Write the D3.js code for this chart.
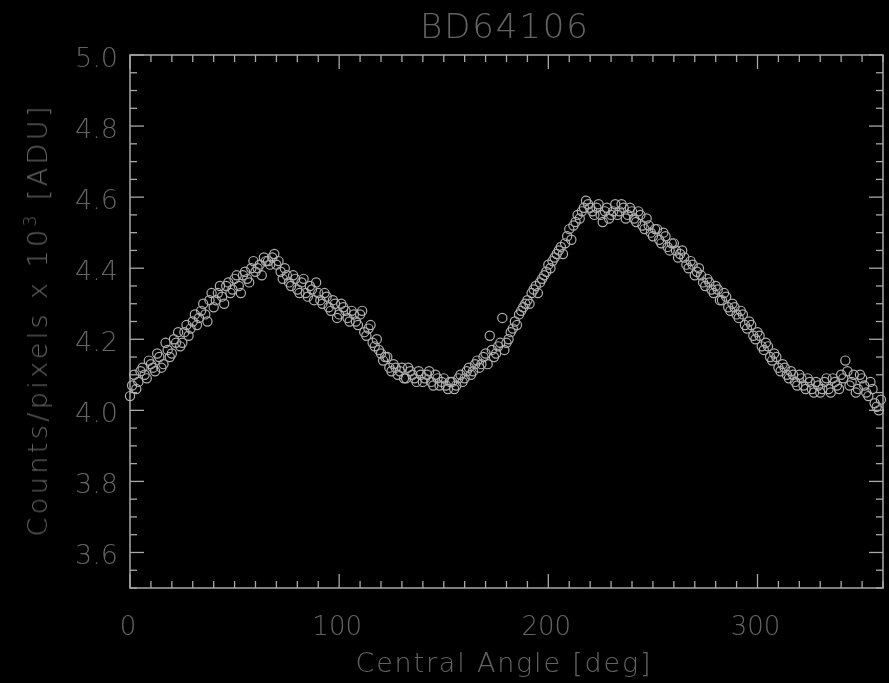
<!DOCTYPE html>
<html>
<head>
<meta charset="utf-8">
<script src="https://cdn.jsdelivr.net/npm/d3@7"></script>
<style>
  html, body { margin: 0; padding: 0; background: #000; }
  svg text { font-family: "DejaVu Sans", sans-serif; font-weight: 200; fill: #646464; }
</style>
</head>
<body>
<div id="chart"></div>
<script>
// Light curve data (even and odd angle samples)
const anglesEven = [
  0, 2, 4, 6, 8, 10, 12, 14, 16, 18, 20, 22, 24, 26, 28, 30, 32, 34, 36, 38,
  40, 42, 44, 46, 48, 50, 52, 54, 56, 58, 60, 62, 64, 66, 68, 70, 72, 74, 76, 78,
  80, 82, 84, 86, 88, 90, 92, 94, 96, 98, 100, 102, 104, 106, 108, 110, 112, 114, 116, 118,
  120, 122, 124, 126, 128, 130, 132, 134, 136, 138, 140, 142, 144, 146, 148, 150, 152, 154, 156, 158,
  160, 162, 164, 166, 168, 170, 172, 174, 176, 178, 180, 182, 184, 186, 188, 190, 192, 194, 196, 198,
  200, 202, 204, 206, 208, 210, 212, 214, 216, 218, 220, 222, 224, 226, 228, 230, 232, 234, 236, 238,
  240, 242, 244, 246, 248, 250, 252, 254, 256, 258, 260, 262, 264, 266, 268, 270, 272, 274, 276, 278,
  280, 282, 284, 286, 288, 290, 292, 294, 296, 298, 300, 302, 304, 306, 308, 310, 312, 314, 316, 318,
  320, 322, 324, 326, 328, 330, 332, 334, 336, 338, 340, 342, 344, 346, 348, 350, 352, 354, 356, 358
]
const countsEven = [
  4.04, 4.10, 4.08, 4.12, 4.09, 4.13, 4.11, 4.15, 4.13, 4.17, 4.16, 4.19, 4.18, 4.22, 4.21, 4.25, 4.24, 4.28, 4.27, 4.31,
  4.29, 4.33, 4.32, 4.35, 4.33, 4.37, 4.35, 4.38, 4.37, 4.40, 4.39, 4.41, 4.43, 4.42, 4.43, 4.41, 4.39, 4.40, 4.36, 4.38,
  4.34, 4.36, 4.33, 4.35, 4.31, 4.33, 4.30, 4.32, 4.28, 4.30, 4.27, 4.29, 4.26, 4.28, 4.25, 4.27, 4.22, 4.23, 4.19, 4.20,
  4.16, 4.15, 4.12, 4.13, 4.10, 4.12, 4.09, 4.11, 4.09, 4.11, 4.08, 4.10, 4.08, 4.10, 4.07, 4.09, 4.06, 4.08, 4.07, 4.10,
  4.09, 4.12, 4.11, 4.14, 4.13, 4.16, 4.21, 4.15, 4.18, 4.26, 4.19, 4.22, 4.25, 4.27, 4.29, 4.31, 4.33, 4.35, 4.36, 4.38,
  4.41, 4.42, 4.44, 4.46, 4.47, 4.51, 4.52, 4.55, 4.56, 4.59, 4.57, 4.55, 4.58, 4.53, 4.57, 4.55, 4.58, 4.56, 4.57, 4.55,
  4.56, 4.53, 4.55, 4.51, 4.52, 4.49, 4.51, 4.47, 4.49, 4.45, 4.47, 4.43, 4.45, 4.41, 4.42, 4.38, 4.40, 4.36, 4.37, 4.34,
  4.35, 4.31, 4.33, 4.29, 4.30, 4.27, 4.28, 4.24, 4.25, 4.21, 4.22, 4.18, 4.19, 4.15, 4.16, 4.12, 4.13, 4.10, 4.11, 4.08,
  4.10, 4.07, 4.09, 4.06, 4.08, 4.05, 4.08, 4.06, 4.09, 4.07, 4.10, 4.14, 4.07, 4.10, 4.06, 4.09, 4.05, 4.08, 4.02, 4.00
]
const anglesOdd = [
  1, 3, 5, 7, 9, 11, 13, 15, 17, 19, 21, 23, 25, 27, 29, 31, 33, 35, 37, 39,
  41, 43, 45, 47, 49, 51, 53, 55, 57, 59, 61, 63, 65, 67, 69, 71, 73, 75, 77, 79,
  81, 83, 85, 87, 89, 91, 93, 95, 97, 99, 101, 103, 105, 107, 109, 111, 113, 115, 117, 119,
  121, 123, 125, 127, 129, 131, 133, 135, 137, 139, 141, 143, 145, 147, 149, 151, 153, 155, 157, 159,
  161, 163, 165, 167, 169, 171, 173, 175, 177, 179, 181, 183, 185, 187, 189, 191, 193, 195, 197, 199,
  201, 203, 205, 207, 209, 211, 213, 215, 217, 219, 221, 223, 225, 227, 229, 231, 233, 235, 237, 239,
  241, 243, 245, 247, 249, 251, 253, 255, 257, 259, 261, 263, 265, 267, 269, 271, 273, 275, 277, 279,
  281, 283, 285, 287, 289, 291, 293, 295, 297, 299, 301, 303, 305, 307, 309, 311, 313, 315, 317, 319,
  321, 323, 325, 327, 329, 331, 333, 335, 337, 339, 341, 343, 345, 347, 349, 351, 353, 355, 357, 359
]
const countsOdd = [
  4.07, 4.06, 4.11, 4.10, 4.14, 4.12, 4.16, 4.12, 4.19, 4.15, 4.20, 4.22, 4.19, 4.24, 4.23, 4.27, 4.26, 4.30, 4.25, 4.33,
  4.31, 4.35, 4.30, 4.36, 4.34, 4.38, 4.33, 4.39, 4.36, 4.42, 4.40, 4.38, 4.42, 4.41, 4.44, 4.42, 4.37, 4.38, 4.35, 4.37,
  4.33, 4.37, 4.32, 4.34, 4.36, 4.31, 4.33, 4.29, 4.31, 4.26, 4.30, 4.28, 4.25, 4.27, 4.24, 4.28, 4.21, 4.24, 4.18, 4.17,
  4.14, 4.15, 4.11, 4.12, 4.11, 4.09, 4.12, 4.10, 4.08, 4.10, 4.09, 4.11, 4.07, 4.09, 4.08, 4.07, 4.08, 4.06, 4.09, 4.08,
  4.11, 4.10, 4.13, 4.12, 4.15, 4.13, 4.17, 4.16, 4.19, 4.17, 4.20, 4.23, 4.24, 4.28, 4.30, 4.30, 4.34, 4.33, 4.37, 4.39,
  4.40, 4.43, 4.45, 4.44, 4.49, 4.48, 4.53, 4.54, 4.57, 4.58, 4.56, 4.57, 4.55, 4.56, 4.54, 4.56, 4.55, 4.58, 4.54, 4.57,
  4.54, 4.56, 4.52, 4.54, 4.50, 4.51, 4.48, 4.50, 4.46, 4.47, 4.45, 4.44, 4.43, 4.40, 4.41, 4.39, 4.38, 4.35, 4.36, 4.33,
  4.34, 4.31, 4.32, 4.28, 4.29, 4.26, 4.27, 4.23, 4.24, 4.20, 4.21, 4.17, 4.18, 4.14, 4.15, 4.11, 4.12, 4.09, 4.10, 4.07,
  4.09, 4.06, 4.08, 4.05, 4.07, 4.06, 4.09, 4.05, 4.08, 4.06, 4.09, 4.11, 4.08, 4.05, 4.10, 4.07, 4.04, 4.06, 4.01, 4.03
]
const xTicks = [0, 100, 200, 300]
const yTicks = [3.6, 3.8, 4.0, 4.2, 4.4, 4.6, 4.8, 5.0]

const width = 889
const height = 683
const margin = { top: 55, right: 6, bottom: 95, left: 130 }
const axisColor = '#a8a8a8'

const svg = d3.select('#chart')
  .append('svg')
  .attr('width', width)
  .attr('height', height)
  .style('background', '#000')

// soft blur like the original raster
svg.append('defs').append('filter')
  .attr('id', 'soft')
  .append('feGaussianBlur')
  .attr('stdDeviation', 0.6)

const root = svg.append('g').attr('filter', 'url(#soft)')

const xScale = d3.scaleLinear()
  .domain([0, 360])
  .range([margin.left, width - margin.right])

const yScale = d3.scaleLinear()
  .domain([3.5, 5.0])
  .range([height - margin.bottom, margin.top])

const x0 = xScale.range()[0], x1 = xScale.range()[1]
const y0 = yScale.range()[0], y1 = yScale.range()[1]

// frame with inward ticks on all four sides
const xMinor = d3.range(0, 361, 10)
const yMinor = d3.range(3.5, 5.001, 0.05)

const ticks = root.append('g').attr('stroke', axisColor).attr('stroke-width', 1.3)

ticks.selectAll('line.xb')
  .data(xMinor)
  .enter()
  .append('line')
  .attr('x1', d => xScale(d)).attr('x2', d => xScale(d))
  .attr('y1', y0).attr('y2', d => y0 - (d % 100 === 0 ? 14 : 7))

ticks.selectAll('line.xt')
  .data(xMinor)
  .enter()
  .append('line')
  .attr('x1', d => xScale(d)).attr('x2', d => xScale(d))
  .attr('y1', y1).attr('y2', d => y1 + (d % 100 === 0 ? 14 : 7))

const isMajorY = d => Math.abs(Math.round(d * 5) - d * 5) < 1e-6

ticks.selectAll('line.yl')
  .data(yMinor)
  .enter()
  .append('line')
  .attr('x1', x0).attr('x2', d => x0 + (isMajorY(d) ? 14 : 7))
  .attr('y1', d => yScale(d)).attr('y2', d => yScale(d))

ticks.selectAll('line.yr')
  .data(yMinor)
  .enter()
  .append('line')
  .attr('x1', x1).attr('x2', d => x1 - (isMajorY(d) ? 14 : 7))
  .attr('y1', d => yScale(d)).attr('y2', d => yScale(d))

root.append('rect')
  .attr('x', x0).attr('y', y1)
  .attr('width', x1 - x0).attr('height', y0 - y1)
  .attr('fill', 'none')
  .attr('stroke', axisColor)
  .attr('stroke-width', 1.5)

// tick labels
root.selectAll('text.xl')
  .data(xTicks)
  .enter()
  .append('text')
  .attr('x', d => xScale(d) - 2)
  .attr('y', 635)
  .attr('text-anchor', 'middle')
  .attr('font-size', 26)
  .text(d => d)

root.selectAll('text.yl')
  .data(yTicks)
  .enter()
  .append('text')
  .attr('x', 118)
  .attr('y', d => yScale(d) + 12)
  .attr('text-anchor', 'end')
  .attr('font-size', 27)
  .text(d => d3.format('.1f')(d))

// title and axis titles
root.append('text')
  .attr('x', 504)
  .attr('y', 38)
  .attr('text-anchor', 'middle')
  .attr('font-size', 34)
  .attr('textLength', 168)
  .attr('lengthAdjust', 'spacing')
  .text('BD64106')

root.append('text')
  .attr('x', 503)
  .attr('y', 672)
  .attr('text-anchor', 'middle')
  .attr('font-size', 27)
  .attr('textLength', 295)
  .attr('lengthAdjust', 'spacing')
  .text('Central Angle [deg]')

const yLabel = root.append('text')
  .attr('transform', `translate(47, ${(y0 + y1) / 2}) rotate(-90)`)
  .attr('text-anchor', 'middle')
  .attr('font-size', 27)
  .attr('textLength', 430)
  .attr('lengthAdjust', 'spacing')
yLabel.append('tspan').text('Counts/pixels  x 10')
yLabel.append('tspan').attr('font-size', 17).attr('dy', -11).text('3')
yLabel.append('tspan').attr('dy', 11).text(' [ADU]')

// data points
const points = anglesEven.map((a, i) => ({ a: a, c: countsEven[i] }))
  .concat(anglesOdd.map((a, i) => ({ a: a, c: countsOdd[i] })))

root.append('g')
  .selectAll('circle')
  .data(points)
  .enter()
  .append('circle')
  .attr('cx', d => xScale(d.a))
  .attr('cy', d => yScale(d.c))
  .attr('r', 4.6)
  .attr('fill', 'none')
  .attr('stroke', '#b0b0b0')
  .attr('stroke-width', 1.2)
</script>
</body>
</html>
